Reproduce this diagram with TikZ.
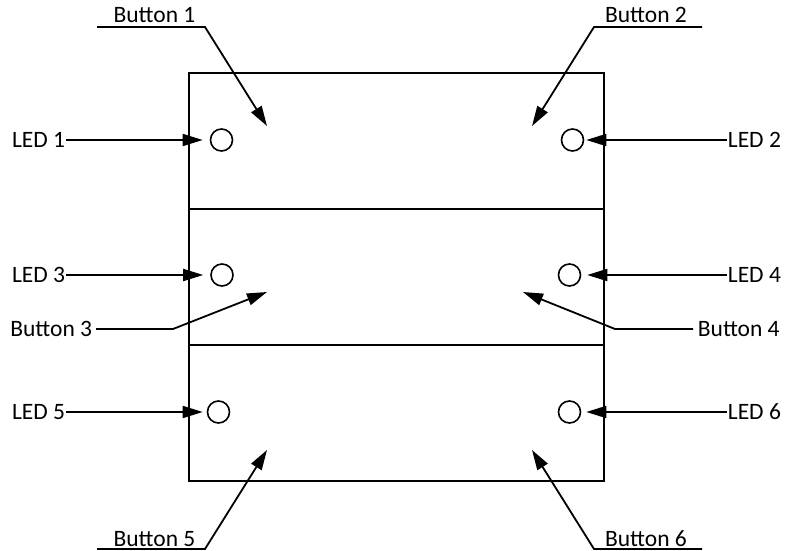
\documentclass[tikz,border=0pt]{standalone}
\usepackage{fontspec}
\setmainfont{Carlito}
\usetikzlibrary{arrows.meta}
\begin{document}
\begin{tikzpicture}[x=1pt,y=-1pt,line width=1.8pt,
  lbl/.style={font=\fontsize{23.5}{28}\selectfont,inner sep=0pt},
  led/.style={circle,draw,minimum size=22pt,inner sep=0pt,line width=1.6pt},
  arr/.style={-{Triangle[length=20pt,width=12pt]}},
  panel/.style={draw,minimum width=415pt,minimum height=136pt,inner sep=0pt,anchor=north west}]
\useasboundingbox (0,0) rectangle (785,551);
% panels
\node[panel] (p1) at (188,72) {};
\node[panel] (p2) at (188,208) {};
\node[panel] (p3) at (188,344) {};
% LEDs
\node[led] (c1) at (221.5,140) {};
\node[led] (c2) at (572.5,140) {};
\node[led] (c3) at (222,275) {};
\node[led] (c4) at (569.5,275) {};
\node[led] (c5) at (218.5,412) {};
\node[led] (c6) at (569.5,412) {};
% LED labels
\node[lbl,anchor=east] (l1) at (66,140) {LED 1};
\node[lbl,anchor=west] (l2) at (727,140) {LED 2};
\node[lbl,anchor=east] (l3) at (66,275) {LED 3};
\node[lbl,anchor=west] (l4) at (727,275) {LED 4};
\node[lbl,anchor=east] (l5) at (66,412) {LED 5};
\node[lbl,anchor=west] (l6) at (727,412) {LED 6};
\draw[arr] (l1.east) -- ([xshift=-7pt]c1.west);
\draw[arr] (l2.west) -- ([xshift=2pt]c2.east);
\draw[arr] (l3.east) -- ([xshift=-7pt]c3.west);
\draw[arr] (l4.west) -- ([xshift=6pt]c4.east);
\draw[arr] (l5.east) -- ([xshift=-4pt]c5.west);
\draw[arr] (l6.west) -- ([xshift=5pt]c6.east);
% Button labels
\node[lbl,anchor=base] (b1) at (154.5,23) {Button 1};
\node[lbl,anchor=base] (b2) at (646,23) {Button 2};
\node[lbl,anchor=east] (b3) at (93,329) {Button 3};
\node[lbl,anchor=west] (b4) at (697,329) {Button 4};
\node[lbl,anchor=base] (b5) at (154.5,546) {Button 5};
\node[lbl,anchor=base] (b6) at (646,546) {Button 6};
% underline ends and tips
\coordinate (u1) at (97,27);  \coordinate (e1) at (205,27);  \coordinate (t1) at (267,126);
\coordinate (u2) at (702,27); \coordinate (e2) at (594,27);  \coordinate (t2) at (532,126);
\coordinate (e3) at (173,329); \coordinate (t3) at (267,292);
\coordinate (e4) at (615,329); \coordinate (t4) at (523,292);
\coordinate (u5) at (97,549); \coordinate (e5) at (205,549); \coordinate (t5) at (267,450);
\coordinate (u6) at (702,549); \coordinate (e6) at (594,549); \coordinate (t6) at (532,450);
\draw[arr] (u1) -- (e1) -- (t1);
\draw[arr] (u2) -- (e2) -- (t2);
\draw[arr] ([xshift=3pt]b3.east) -- (e3) -- (t3);
\draw[arr] ([xshift=-4pt]b4.west) -- (e4) -- (t4);
\draw[arr] (u5) -- (e5) -- (t5);
\draw[arr] (u6) -- (e6) -- (t6);
\end{tikzpicture}
\end{document}
